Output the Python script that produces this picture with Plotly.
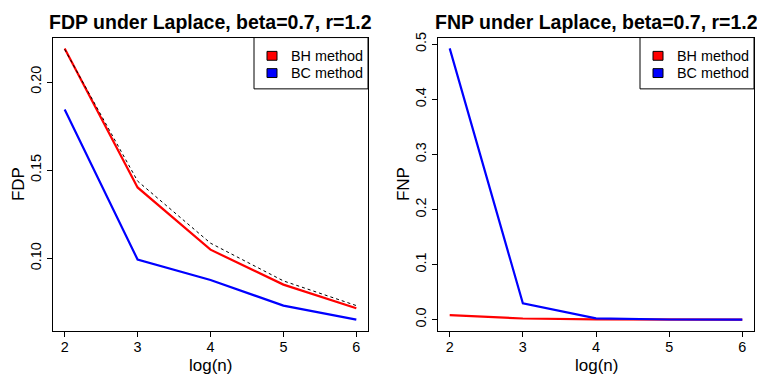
import plotly.graph_objects as go

# ---- data ----
log_n = [2, 3, 4, 5, 6]
fdp_bh = [0.2190, 0.1402, 0.1049, 0.0851, 0.0717]
fdp_bc = [0.1844, 0.0993, 0.0877, 0.0732, 0.0652]
fdp_ref = [0.2185, 0.1438, 0.1086, 0.0872, 0.0732]
fnp_bh = [0.0083, 0.0023, 0.0006, 0.0003, 0.0002]
fnp_bc = [0.4923, 0.0297, 0.0025, 0.0005, 0.0003]
titles = ["FDP under Laplace, beta=0.7, r=1.2", "FNP under Laplace, beta=0.7, r=1.2"]
ylabels = ["FDP", "FNP"]
legend_labels = ["BH method", "BC method"]
colors = ["#FF0000", "#0000FF"]

W, H = 757, 377
FONT = "Liberation Sans, Arial, sans-serif"

def px(x):
    return x / W

def py(y):
    return 1 - y / H

fig = go.Figure()

# left panel
fig.add_trace(go.Scatter(x=log_n, y=fdp_bh, mode="lines", line=dict(color=colors[0], width=2.2),
                         xaxis="x", yaxis="y", showlegend=False))
fig.add_trace(go.Scatter(x=log_n, y=fdp_bc, mode="lines", line=dict(color=colors[1], width=2.2),
                         xaxis="x", yaxis="y", showlegend=False))
fig.add_trace(go.Scatter(x=log_n, y=fdp_ref, mode="lines", line=dict(color="black", width=1, dash="dot"),
                         xaxis="x", yaxis="y", showlegend=False))
# right panel
fig.add_trace(go.Scatter(x=log_n, y=fnp_bh, mode="lines", line=dict(color=colors[0], width=2.2),
                         xaxis="x2", yaxis="y2", showlegend=False))
fig.add_trace(go.Scatter(x=log_n, y=fnp_bc, mode="lines", line=dict(color=colors[1], width=2.2),
                         xaxis="x2", yaxis="y2", showlegend=False))

boxes = [(53, 368), (438, 754)]
top, bottom = 33, 330

axis_common = dict(showline=True, mirror=True, linecolor="black", linewidth=1,
                   ticks="outside", ticklen=5, tickcolor="black", tickwidth=1,
                   showgrid=False, zeroline=False,
                   tickfont=dict(family=FONT, size=14.4, color="black"))

fig.update_layout(
    width=W, height=H, margin=dict(l=0, r=0, t=0, b=0),
    paper_bgcolor="white", plot_bgcolor="white",
    xaxis=dict(domain=[px(boxes[0][0]), px(boxes[0][1])], range=[1.84, 6.16],
               tickvals=log_n, anchor="y", ticklabelstandoff=-2, **axis_common),
    yaxis=dict(domain=[py(bottom), py(top)], range=[0.0590, 0.2252],
               tickvals=[0.10, 0.15, 0.20], tickformat=".2f", tickangle=-90,
               anchor="x", **axis_common),
    xaxis2=dict(domain=[px(boxes[1][0]), px(boxes[1][1])], range=[1.84, 6.16],
                tickvals=log_n, anchor="y2", ticklabelstandoff=-2, **axis_common),
    yaxis2=dict(domain=[py(bottom), py(top)], range=[-0.0197, 0.512],
                tickvals=[0.0, 0.1, 0.2, 0.3, 0.4, 0.5], tickformat=".1f", tickangle=-90,
                anchor="x2", **axis_common),
)

annotations = []
shapes = []
for i, (x0, x1) in enumerate(boxes):
    cx = (x0 + x1) / 2
    annotations.append(dict(text="<b>%s</b>" % titles[i], x=px(cx), y=py(17), xref="paper", yref="paper",
                            xanchor="center", yanchor="middle", showarrow=False,
                            font=dict(family=FONT, size=19.5, color="black")))
    annotations.append(dict(text="log(n)", x=px(cx), y=py(365), xref="paper", yref="paper",
                            xanchor="center", yanchor="middle", showarrow=False,
                            font=dict(family=FONT, size=17, color="black")))
    annotations.append(dict(text=ylabels[i], x=px(x0 - 35), y=py((top + bottom) / 2), xref="paper", yref="paper",
                            xanchor="center", yanchor="middle", showarrow=False, textangle=-90,
                            font=dict(family=FONT, size=17, color="black")))
    # legend box
    lx0 = x1 - 114
    shapes.append(dict(type="rect", xref="paper", yref="paper", x0=px(lx0), x1=px(x1),
                       y0=py(85), y1=py(top), line=dict(color="black", width=1), fillcolor="white", layer="above"))
    for j, lab in enumerate(legend_labels):
        yc = 51.5 + j * 17.5
        shapes.append(dict(type="rect", xref="paper", yref="paper",
                           x0=px(lx0 + 13), x1=px(lx0 + 23), y0=py(yc + 4.5), y1=py(yc - 4.5),
                           line=dict(color="black", width=1), fillcolor=colors[j], layer="above"))
        annotations.append(dict(text=lab, x=px(lx0 + 35), y=py(yc), xref="paper", yref="paper",
                                xanchor="left", yanchor="middle", showarrow=False,
                                font=dict(family=FONT, size=14.4, color="black")))

fig.update_layout(annotations=annotations, shapes=shapes)
fig.write_html("out.html")
